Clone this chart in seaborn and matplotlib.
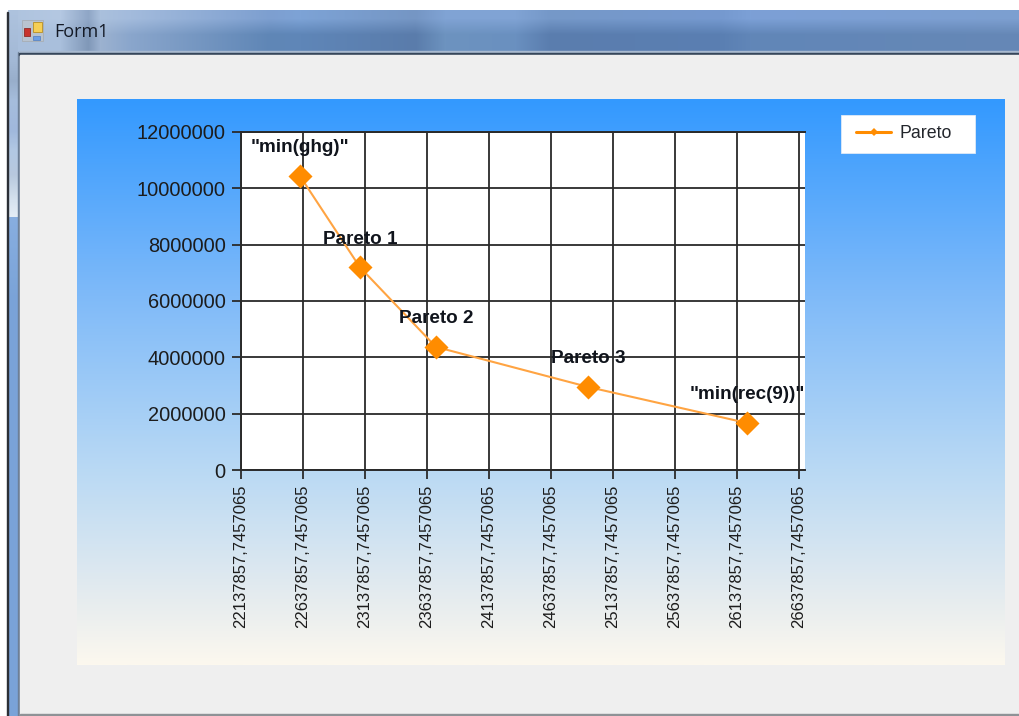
import numpy as np
import pandas as pd
import seaborn as sns
import matplotlib
matplotlib.use("Agg")
import matplotlib.pyplot as plt
from matplotlib.colors import LinearSegmentedColormap, to_rgb
from matplotlib.lines import Line2D
from matplotlib.patches import Rectangle

# Pareto front: emissions objective against recovery objective
cost_values = [22613000, 23097000, 23710000, 24936000, 26218000]
ghg_values = [10440000, 7200000, 4370000, 2950000, 1670000]
point_labels = ['"min(ghg)"', "Pareto 1", "Pareto 2", "Pareto 3", '"min(rec(9))"']
x_tick_labels = [
    "22137857,7457065", "22637857,7457065", "23137857,7457065", "23637857,7457065",
    "24137857,7457065", "24637857,7457065", "25137857,7457065", "25637857,7457065",
    "26137857,7457065", "26637857,7457065",
]
y_ticks = [0, 2000000, 4000000, 6000000, 8000000, 10000000, 12000000]
x_upper = 26687000
series_name = "Pareto"

W, H = 1020, 716
sns.set_theme(style="white")
plt.rcParams["font.family"] = ["Liberation Sans", "DejaVu Sans"]

fig = plt.figure(figsize=(W / 100, H / 100), dpi=100, facecolor="white")


def px_axes(left, top, right, bottom):
    return [left / W, 1 - bottom / H, (right - left) / W, (bottom - top) / H]


# Window chrome, laid out in pixel coordinates
chrome = fig.add_axes([0, 0, 1, 1], zorder=0)
chrome.set_xlim(0, W)
chrome.set_ylim(H, 0)
chrome.axis("off")

title_x = [8, 60, 88, 100, 130, 270, 300, 415, 445, 515, 550, 720, 750, 1020]
title_top = ["#aec3de", "#b4c8e2", "#8fa6c6", "#aac0dc", "#a3bbdc", "#7d9fd0", "#7da3d6",
             "#7596c4", "#80a3d4", "#80a3d4", "#7598c8", "#7599cf", "#7ca0d6", "#7d9fd0"]
title_bot = ["#a9bfdc", "#a9bfdc", "#8098b8", "#9cb2d0", "#8aa6cc", "#5f86b6", "#5f86b8",
             "#5a7cab", "#6d93bf", "#6a90c0", "#5a7dae", "#5a7fb2", "#6186b8", "#6688b6"]
cols = np.arange(8, W)
top_rgb = np.array([np.interp(cols, title_x, [to_rgb(c)[i] for c in title_top]) for i in range(3)]).T
bot_rgb = np.array([np.interp(cols, title_x, [to_rgb(c)[i] for c in title_bot]) for i in range(3)]).T
blend = np.clip((np.arange(10, 53) - 18) / 16, 0, 1)[:, None, None]
title_img = top_rgb[None, :, :] * (1 - blend) + bot_rgb[None, :, :] * blend
chrome.imshow(title_img, extent=(8, W, 53, 10), aspect="auto", interpolation="bilinear", zorder=1)

side_y = [10, 60, 80, 100, 130, 150, 175, 200, 216, 217, 300, H]
side_c = ["#aec3de", "#a3b9d6", "#98aecb", "#a6bddc", "#a0b8dc", "#b2c8e4", "#b8c9de", "#d6e2ef",
          "#e4edf6", "#88aee0", "#7aa3d8", "#7aa3d8"]
rows = np.arange(10, H)
side_img = np.array([np.interp(rows, side_y, [to_rgb(c)[i] for c in side_c]) for i in range(3)]).T[:, None, :]
chrome.imshow(side_img, extent=(8, 18, H, 10), aspect="auto", interpolation="bilinear", zorder=1)

chrome.add_patch(Rectangle((7, 12), 1.2, H - 12, color="#2b2f36", zorder=2))
chrome.add_patch(Rectangle((18, 52), 2, H - 52, color="#6d7f96", zorder=2))
chrome.add_patch(Rectangle((19, 51), W - 19, 1.2, color="#a9bad0", zorder=2))
chrome.add_patch(Rectangle((19, 53), W - 19, 1.6, color="#36465a", zorder=2))
chrome.add_patch(Rectangle((20, 54.6), W - 20, H - 56, color="#efefef", zorder=2))
chrome.add_patch(Rectangle((20, H - 1.6), W - 20, 1.6, color="#8e9296", zorder=3))

# Form icon and caption
chrome.add_patch(Rectangle((22, 20), 21, 21, facecolor="#b9c3cf", edgecolor="#a7adb4", lw=0.6, zorder=3))
chrome.add_patch(Rectangle((24, 28), 6, 8, facecolor="#c8322b", edgecolor="#8e2a25", lw=0.6, zorder=4))
chrome.add_patch(Rectangle((33, 22), 9, 10, facecolor="#f6cf55", edgecolor="#b98f22", lw=0.6, zorder=4))
chrome.add_patch(Rectangle((33, 36), 7, 4, facecolor="#6d9fe6", edgecolor="#5b86c4", lw=0.6, zorder=4))
chrome.text(54, 32, "Form1", family="Open Sans", fontsize=13, color="#141a26", va="center", ha="left", zorder=4)

# Chart background: vertical wash from blue down to cream
wash = LinearSegmentedColormap.from_list(
    "wash", [(0, "#3399ff"), (0.337, "#7db9f9"), (0.655, "#b9d9f4"), (0.885, "#e6ecef"), (1, "#fcf8ee")])
chrome.imshow(np.linspace(0, 1, 256)[:, None], cmap=wash, extent=(77, 1005, 665, 99),
              aspect="auto", interpolation="bilinear", zorder=3)

# White panel behind the legend entry
chrome.add_patch(Rectangle((841, 115), 134, 38, facecolor="white", edgecolor="#dfeaf7", lw=0.6, zorder=4))
chrome.set_xlim(0, W)
chrome.set_ylim(H, 0)

# Plot area
ax = fig.add_axes(px_axes(241, 132, 805, 470), zorder=2, facecolor="white")
frame = pd.DataFrame({"cost": cost_values, "ghg": ghg_values})
sns.lineplot(data=frame, x="cost", y="ghg", ax=ax, sort=False, color="#ffa442", linewidth=1.5,
             zorder=4, legend=False)
sns.scatterplot(data=frame, x="cost", y="ghg", ax=ax, marker="D", s=150, color="#ff8c00",
                linewidth=0, zorder=5, legend=False, clip_on=False)

x_ticks = [float(t.replace(",", ".")) for t in x_tick_labels]
ax.set_xlim(x_ticks[0], x_upper)
ax.set_ylim(0, max(y_ticks))
ax.set_xticks(x_ticks)
ax.set_xticklabels(x_tick_labels, rotation=90, fontsize=12, color="#1c1c1c")
ax.set_yticks(y_ticks)
ax.set_yticklabels([str(v) for v in y_ticks], fontsize=14.4, color="#1c1c1c")
ax.set_xlabel("")
ax.set_ylabel("")
ax.tick_params(axis="both", direction="out", length=6.5, width=1.3, color="#2a2a2a", left=True, bottom=True)
ax.tick_params(axis="y", pad=4.4)
ax.tick_params(axis="x", pad=4)
ax.grid(True, color="#2a2a2a", linewidth=1.3)
ax.set_axisbelow(True)
for side, spine in ax.spines.items():
    spine.set_visible(side != "right")
    spine.set_color("#2a2a2a")
    spine.set_linewidth(1.4)

for x, y, text in zip(cost_values, ghg_values, point_labels):
    ax.annotate(text, (x, y), xytext=(0, 20.2), textcoords="offset points", ha="center", va="center",
                fontsize=13.6, fontweight="bold", color="#10141c", zorder=6, annotation_clip=False)

# Legend entry to the right of the plot area
handle = Line2D([], [], color="#ff8c00", linewidth=2.2, marker="D", markersize=4, markeredgewidth=0)
legend = fig.legend([handle], [series_name], loc="center left", bbox_to_anchor=(856 / W, 1 - 134 / H),
                    frameon=False, fontsize=12.8, handlelength=1.97, handletextpad=0.5,
                    borderpad=0, borderaxespad=0)
legend.get_texts()[0].set_color("#23262c")
legend.set_zorder(5)

fig.savefig("out.png", dpi=100)
